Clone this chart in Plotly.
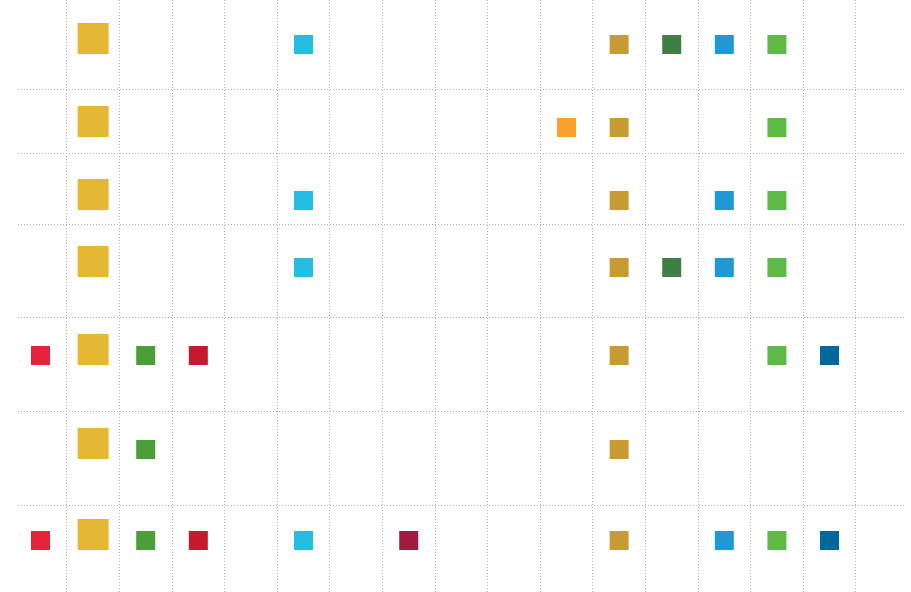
import plotly.graph_objects as go

# Goal columns (1..17) and their colours
goal_ids = list(range(1, 18))
goal_colors = {
    1: "#E5243B", 2: "#E6B733", 3: "#4C9F38", 4: "#C5192D", 5: "#FF3A21",
    6: "#26BDE2", 7: "#FCC30B", 8: "#A21942", 9: "#FD6925", 10: "#DD1367",
    11: "#F9A12A", 12: "#C79A32", 13: "#3F7E44", 14: "#1F99D4", 15: "#5DBA47",
    16: "#00689D", 17: "#19486A",
}

# Row positions (vertical placement of each row) and row separators
row_positions = [44.5, 127.5, 200.5, 267.5, 355.5, 449.5, 540.5]
row_separators = [89.5, 153, 224.5, 317.5, 411, 505]

# Which rows (1-based) each goal appears in
goal_rows = {
    1: [5, 7],
    2: [1, 2, 3, 4, 5, 6, 7],
    3: [5, 6, 7],
    4: [5, 7],
    6: [1, 3, 4, 7],
    8: [7],
    11: [2],
    12: [1, 2, 3, 4, 5, 6, 7],
    13: [1, 4],
    14: [1, 3, 4, 7],
    15: [1, 2, 3, 4, 5, 7],
    16: [5, 7],
}
primary_goal = 2  # drawn as a larger square

fig = go.Figure()
for g, rows in goal_rows.items():
    big = g == primary_goal
    fig.add_trace(go.Scatter(
        x=[g] * len(rows),
        y=[row_positions[r - 1] for r in rows],
        mode="markers",
        marker=dict(symbol="square", size=31 if big else 19,
                    color=goal_colors[g], line=dict(width=0)),
        yaxis="y2" if big else "y",
        showlegend=False,
        hoverinfo="skip",
    ))

grid = dict(showgrid=True, gridcolor="#b0b0b0", gridwidth=1, griddash="1px,2px",
            zeroline=False, showticklabels=False, ticks="", showline=False)

fig.update_layout(
    width=911, height=592,
    margin=dict(l=18, r=6, t=0, b=0),
    paper_bgcolor="white", plot_bgcolor="white",
    xaxis=dict(range=[0.572, 17.435],
               tickvals=[g + 0.5 for g in goal_ids[:-1]], **grid),
    yaxis=dict(range=[592, 0], tickvals=row_separators, **grid),
    yaxis2=dict(range=[598, 6], overlaying="y", showgrid=False,
                zeroline=False, showticklabels=False, ticks="", visible=False),
)

fig.write_html("out.html",
               config={"displayModeBar": False},
               post_script="document.body.style.margin='0';document.body.style.overflow='hidden';")
